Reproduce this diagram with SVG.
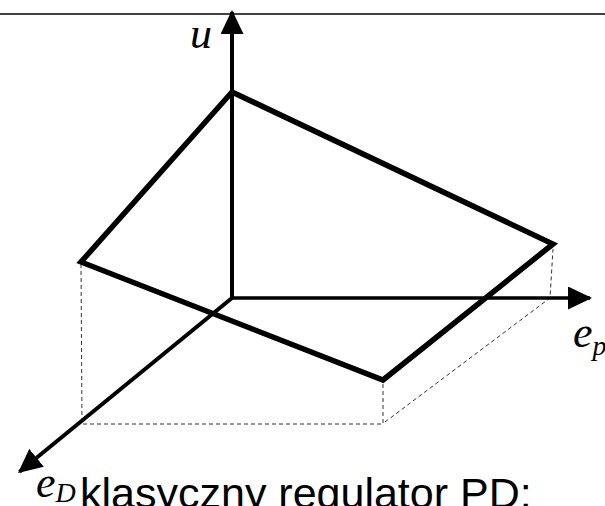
<svg xmlns="http://www.w3.org/2000/svg" width="605" height="506" viewBox="0 0 605 506">
<style>
.axis{stroke:#000;fill:none}
.edge{stroke:#000;stroke-width:5.5;fill:none;stroke-linejoin:miter;stroke-linecap:square}
.proj{stroke:#333;stroke-width:1;fill:none;stroke-dasharray:4 3}
.var{font-family:"Liberation Serif","Times New Roman",serif;font-style:italic;fill:#000}
.cap{font-family:"Liberation Sans",Arial,sans-serif;fill:#000}
</style>
<defs>
<marker id="ah" viewBox="0 0 24 23" refX="22" refY="11.5" markerWidth="24" markerHeight="23" markerUnits="userSpaceOnUse" orient="auto">
<path d="M0,0 L24,11.5 L0,23 z" fill="#000"/>
</marker>
</defs>
<rect width="605" height="506" fill="#fff"/>
<line x1="0" y1="14" x2="605" y2="14" stroke="#000" stroke-width="1.6"/>
<g id="projections">
<polyline class="proj" points="81,264 82,424 383,424 383,384"/>
<polyline class="proj" points="385,422 550,298 553,249"/>
</g>
<g id="surface">
<polygon class="edge" points="232,92 553,244 383,380 81,262"/>
</g>
<g id="axes">
<line class="axis" x1="232" y1="298" x2="232" y2="12" stroke-width="4" marker-end="url(#ah)"/>
<line class="axis" x1="232" y1="298" x2="590" y2="298" stroke-width="3.4" marker-end="url(#ah)"/>
<line class="axis" x1="232" y1="298" x2="19.5" y2="471.7" stroke-width="4" marker-end="url(#ah)"/>
</g>
<g id="labels">
<text class="var" x="190" y="48" font-size="44">u</text>
<text class="var" x="573" y="347" font-size="44">e<tspan font-size="28" dy="8">p</tspan></text>
<text class="var" x="36" y="497" font-size="44">e<tspan font-size="28" dy="5">D</tspan></text>
<text class="cap" x="80" y="508" font-size="43">klasyczny regulator PD:</text>
</g>
</svg>
